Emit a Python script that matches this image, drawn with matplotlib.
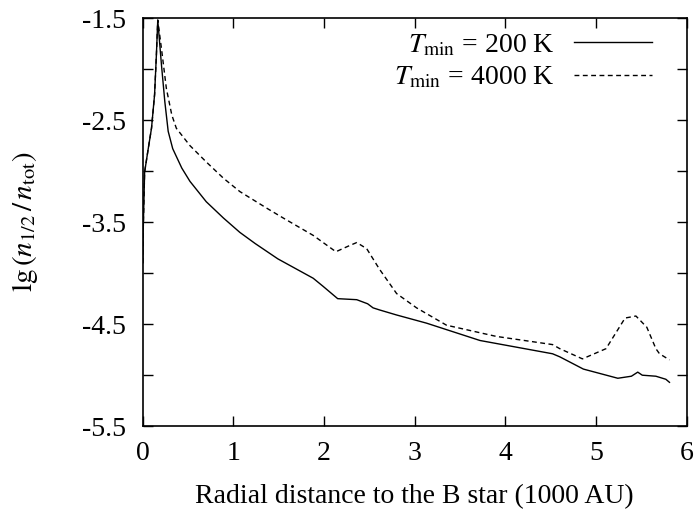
import matplotlib
matplotlib.use("Agg")
import matplotlib.pyplot as plt

plt.rcParams["font.family"] = ["Liberation Serif", "DejaVu Serif"]
plt.rcParams["mathtext.fontset"] = "stix"

# T_min = 200 K
x_200 = [0.0, 0.004, 0.02, 0.06, 0.096, 0.13, 0.15, 0.165, 0.206, 0.243, 0.28, 0.33,
         0.43, 0.52, 0.70, 0.89, 1.07, 1.24, 1.49, 1.88, 1.99, 2.15, 2.36, 2.48,
         2.54, 2.61, 2.80, 3.13, 3.72, 4.52, 4.60, 4.86, 5.24, 5.39, 5.46, 5.51,
         5.66, 5.77, 5.81]
y_200 = [-3.9, -3.60, -3.01, -2.78, -2.58, -2.25, -1.86, -1.52, -1.96, -2.32, -2.61, -2.78,
         -2.97, -3.10, -3.30, -3.46, -3.60, -3.71, -3.86, -4.05, -4.13, -4.25, -4.26, -4.30,
         -4.34, -4.36, -4.41, -4.49, -4.66, -4.79, -4.82, -4.94, -5.03, -5.01, -4.97, -5.0,
         -5.01, -5.04, -5.07]

# T_min = 4000 K
x_4000 = [0.0, 0.004, 0.02, 0.06, 0.096, 0.13, 0.15, 0.165, 0.206, 0.26, 0.32, 0.37,
          0.52, 0.70, 0.89, 1.07, 1.38, 1.55, 1.88, 2.13, 2.28, 2.36, 2.47, 2.61,
          2.80, 3.02, 3.35, 3.90, 4.52, 4.60, 4.85, 5.11, 5.32, 5.44, 5.56, 5.66,
          5.70, 5.81]
y_4000 = [-3.9, -3.60, -3.01, -2.78, -2.58, -2.25, -1.86, -1.52, -1.80, -2.19, -2.45, -2.58,
          -2.75, -2.91, -3.07, -3.20, -3.37, -3.46, -3.63, -3.79, -3.73, -3.70, -3.76, -3.96,
          -4.20, -4.34, -4.51, -4.62, -4.70, -4.74, -4.84, -4.74, -4.44, -4.42, -4.53, -4.74,
          -4.79, -4.85]

yticks = [-1.5, -2.0, -2.5, -3.0, -3.5, -4.0, -4.5, -5.0, -5.5]
ylabels = ["-1.5", "", "-2.5", "", "-3.5", "", "-4.5", "", "-5.5"]

fig = plt.figure(figsize=(7, 5.16), dpi=100)
ax = fig.add_axes([0.204, 0.174, 0.777, 0.791])

ax.plot(x_200, y_200, color="black", lw=1.0, label=r"$T_{\rm min}$ = 200 K")
ax.plot(x_4000, y_4000, color="black", lw=1.0, dashes=(3.5, 2.5),
        label=r"$T_{\rm min}$ = 4000 K")

ax.set_xlim(0, 6)
ax.set_ylim(-5.5, -1.5)
ax.set_yticks(yticks)
ax.set_yticklabels(ylabels)
ax.tick_params(direction="in", length=7, width=1, labelsize=20, top=True, right=True)
ax.tick_params(axis="x", pad=11)
ax.tick_params(axis="y", pad=12)
for s in ax.spines.values():
    s.set_linewidth(1.2)

ax.set_xlabel("Radial distance to the B star (1000 AU)", fontsize=20, labelpad=13)
ax.set_ylabel(r"$\mathrm{lg}\,(n_{1/2}\,/\,n_{\mathrm{tot}})$", fontsize=21, labelpad=30)

ax.legend(loc="upper right", bbox_to_anchor=(0.936, 0.965), frameon=False,
          markerfirst=False, fontsize=20, handlelength=2.8, borderaxespad=0,
          borderpad=0, labelspacing=0.25, handletextpad=0.7)

fig.savefig("out.png", dpi=100)
